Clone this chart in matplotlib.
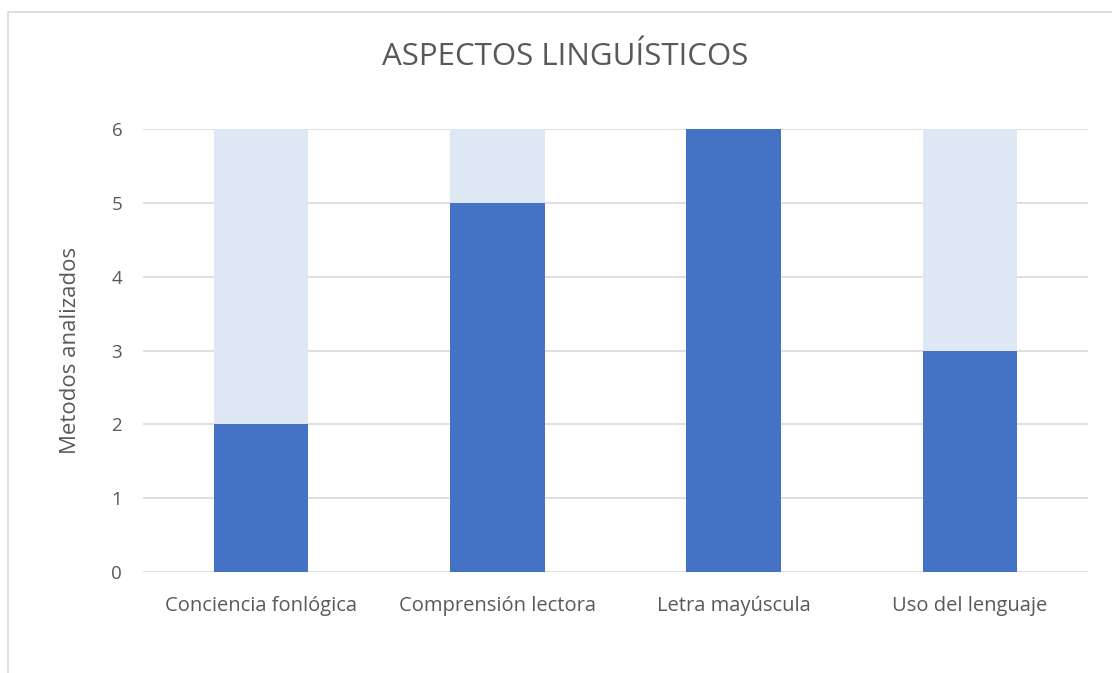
import matplotlib.pyplot as plt
from matplotlib.patches import Rectangle

categorias = ["Conciencia fonlógica", "Comprensión lectora", "Letra mayúscula", "Uso del lenguaje"]
analizados = [2, 5, 6, 3]
restantes = [4, 1, 0, 3]
yticks = [0, 1, 2, 3, 4, 5, 6]

plt.rcParams['font.family'] = ['Open Sans', 'DejaVu Sans']
gris = '#595959'

fig = plt.figure(figsize=(11.12, 6.73), dpi=100)
ax = fig.add_axes([0.1286, 0.150, 0.8498, 0.6583])

# marco del grafico (recortado a la derecha y abajo)
fig.patches.append(Rectangle((8 / 1112, -0.1), 1.2, 1 - 12 / 673 + 0.1, transform=fig.transFigure,
                             fill=False, edgecolor='#D9D9D9', linewidth=1.2))

x = range(len(categorias))
ax.bar(x, analizados, width=0.4, color='#4472C4', zorder=3)
ax.bar(x, restantes, width=0.4, bottom=analizados, color='#DEE8F4', zorder=3)

ax.set_xlim(-0.5, len(categorias) - 0.5)
ax.set_ylim(0, 6)
ax.set_yticks(yticks)
ax.set_xticks(list(x))
ax.set_xticklabels(categorias)
ax.tick_params(axis='both', length=0, colors=gris)
ax.tick_params(axis='y', pad=15, labelsize=13.5)
ax.tick_params(axis='x', pad=17, labelsize=14.5)
ax.grid(axis='y', color='#D9D9D9', linewidth=1.2, zorder=0)
for s in ax.spines.values():
    s.set_visible(False)

ax.set_ylabel("Metodos analizados", fontsize=16, color=gris, labelpad=22)
fig.text(0.508, 0.915, "ASPECTOS LINGUÍSTICOS", fontsize=22.5, color=gris, ha='center', va='center')

fig.savefig("out.png", dpi=100)
